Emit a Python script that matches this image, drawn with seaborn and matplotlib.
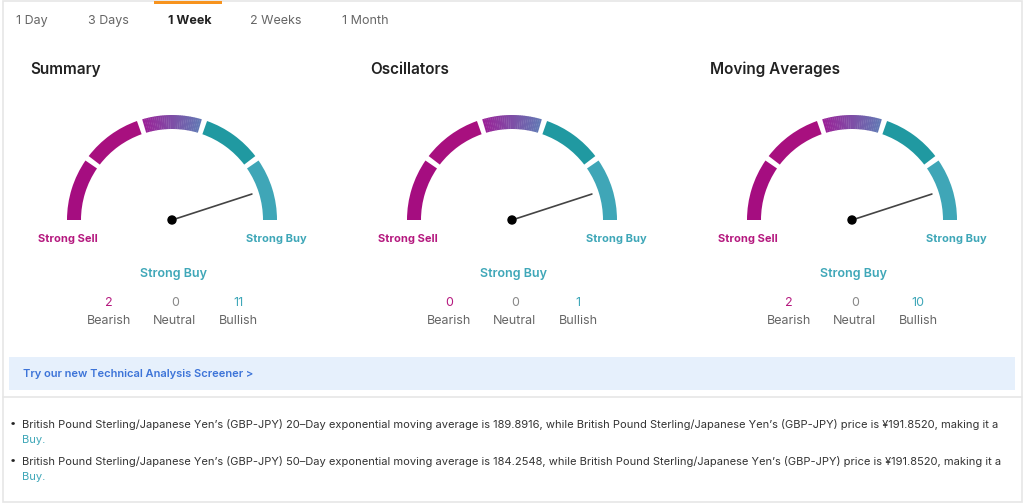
import numpy as np
import seaborn as sns
import matplotlib.pyplot as plt
from matplotlib.patches import Wedge, Circle, Rectangle
from matplotlib.colors import to_rgb

# data
tabs = ["1 Day", "3 Days", "1 Week", "2 Weeks", "1 Month"]
active_tab = "1 Week"
gauge_titles = ["Summary", "Oscillators", "Moving Averages"]
gauge_verdicts = ["Strong Buy", "Strong Buy", "Strong Buy"]
needle_pos = [0.90, 0.90, 0.90]   # 0 = strong sell, 1 = strong buy
bearish = [2, 0, 2]
neutral = [0, 0, 0]
bullish = [11, 1, 10]
ma_days = [20, 50]
ma_values = [189.8916, 184.2548]
price = 191.8520

sns.set_theme(style="white")
plt.rcParams['font.family'] = ['Inter', 'DejaVu Sans']

TEAL = "#3fa7b8"
GREY = "#666666"
seg_colors = ["#a50d80", "#a8107f", None, "#2099a1", "#3fa6b7"]

fig = plt.figure(figsize=(10.24, 5.04), dpi=100)
ax = fig.add_axes([0, 0, 1, 1])
ax.set_xlim(0, 1024)
ax.set_ylim(504, 0)
ax.axis('off')

# frame
ax.add_patch(Rectangle((3, 1), 1019, 501, fill=False, ec="#e6e6e6", lw=1.2))
ax.plot([3, 1022], [397, 397], color="#e6e6e6", lw=1.2)

# tabs
tab_x = [16, 88, 168, 250, 342]
for x, t in zip(tab_x, tabs):
    active = t == active_tab
    ax.text(x, 24, t, fontsize=9, color="#222222" if active else "#666666",
            fontweight='bold' if active else 'normal', va='baseline', ha='left')
ax.add_patch(Rectangle((154, 1), 68, 3, color="#f7931e", lw=0))

centers = [172, 512, 852]
cy = 220
r_out, width = 105, 14
gap = 1.5

for i, cx in enumerate(centers):
    ax.text(cx - 142, 69.5, gauge_titles[i], fontsize=11, fontweight='semibold',
            color="#222222", va='center', ha='left')
    for s in range(5):
        a0 = 180 + 36 * s + (gap if s > 0 else 0)
        a1 = 180 + 36 * (s + 1) - (gap if s < 4 else 0)
        if seg_colors[s] is None:
            c0 = np.array(to_rgb("#9a2398"))
            c1 = np.array(to_rgb("#6378b4"))
            steps = 30
            for k in range(steps):
                t = k / (steps - 1)
                b0 = a0 + (a1 - a0) * k / steps
                b1 = a0 + (a1 - a0) * (k + 1) / steps + 0.2
                ax.add_patch(Wedge((cx, cy), r_out, b0, min(b1, a1), width=width,
                                   color=c0 * (1 - t) + c1 * t, lw=0))
        else:
            ax.add_patch(Wedge((cx, cy), r_out, a0, a1, width=width,
                               color=seg_colors[s], lw=0))
    ang = np.deg2rad(180 + 180 * needle_pos[i])
    L = 84
    ax.plot([cx, cx + L * np.cos(ang)], [cy, cy + L * np.sin(ang)],
            color="#444444", lw=1.2, solid_capstyle='round')
    ax.add_patch(Circle((cx, cy), 4, color="black", zorder=5))

    ax.text(cx - 104, 239, "Strong Sell", fontsize=8, fontweight='bold',
            color="#b5197f", va='center', ha='center')
    ax.text(cx + 104, 239, "Strong Buy", fontsize=8, fontweight='bold',
            color=TEAL, va='center', ha='center')
    ax.text(cx + 1, 273.5, gauge_verdicts[i], fontsize=9, fontweight='semibold',
            color=TEAL, va='center', ha='center')
    for dx, val, lab, col in [(-63, bearish[i], "Bearish", "#b5197f"),
                              (3, neutral[i], "Neutral", "#888888"),
                              (66, bullish[i], "Bullish", TEAL)]:
        ax.text(cx + dx, 303, str(val), fontsize=9, color=col, va='center', ha='center')
        ax.text(cx + dx, 321, lab, fontsize=9, color=GREY, va='center', ha='center')

# banner
ax.add_patch(Rectangle((9, 357), 1006, 33, color="#e6f0fc", lw=0))
ax.text(23, 374, "Try our new Technical Analysis Screener >", fontsize=8,
        fontweight='semibold', color="#3d74d8", va='center', ha='left')

# bullets
pair = "British Pound Sterling/Japanese Yen\u2019s (GBP-JPY)"
for j, (d, v) in enumerate(zip(ma_days, ma_values)):
    y = 424 + j * 37.5
    ax.text(10, y - 1, "\u2022", fontsize=8, color="#222222", va='center', ha='left')
    line = (f"{pair} {d}\u2013Day exponential moving average is {v:.4f}, while "
            f"{pair} price is \u00a5{price:.4f}, making it a")
    ax.text(22, y, line, fontsize=8.0, color="#333333", va='center', ha='left')
    ax.text(22, y + 16, "Buy.", fontsize=8.0, color=TEAL, va='center', ha='left')

fig.savefig("out.png", dpi=100, facecolor="white")
